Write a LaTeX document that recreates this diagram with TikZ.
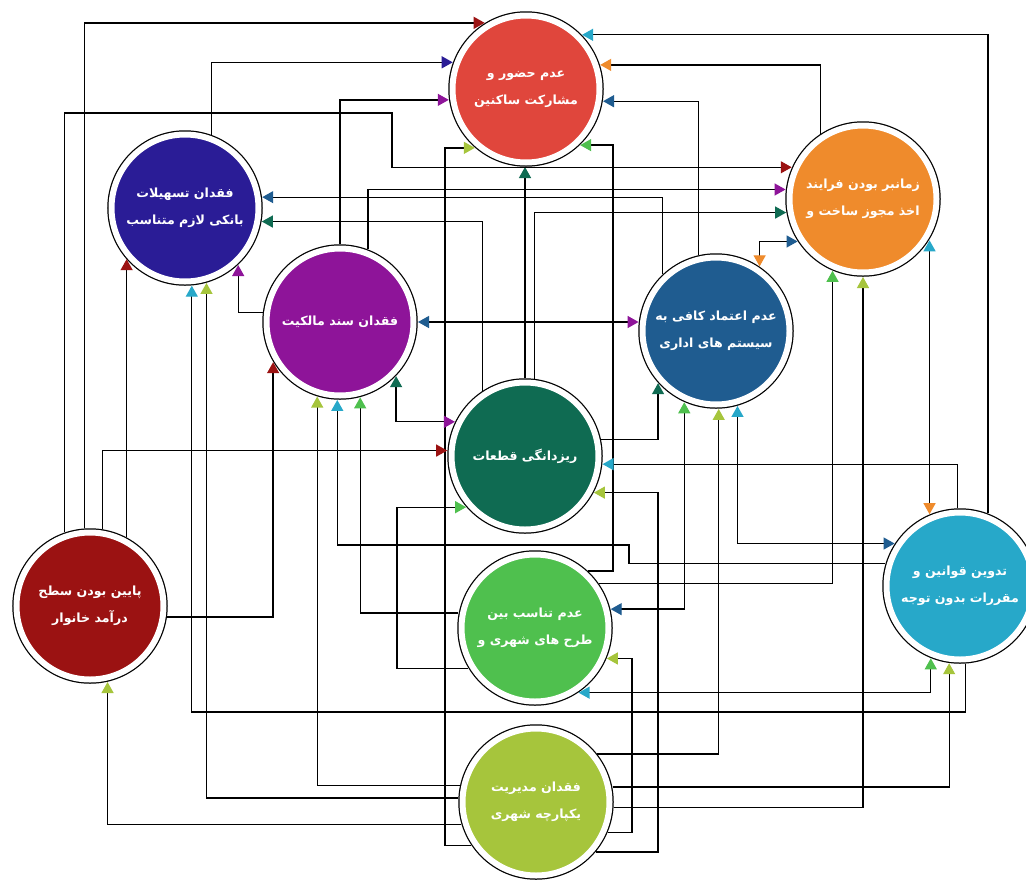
\documentclass[tikz,border=0pt]{standalone}
\usepackage{fontspec}
\usetikzlibrary{arrows.meta,calc}
\newfontfamily\fa[Script=Arabic,BoldFont={DejaVu Sans Bold}]{DejaVu Sans}
\TeXXeTstate=1
\definecolor{rc}{HTML}{E0463C}
\definecolor{oc}{HTML}{EF8B2C}
\definecolor{nc}{HTML}{2A1C96}
\definecolor{pc}{HTML}{8E1499}
\definecolor{bc}{HTML}{1F5C90}
\definecolor{gc}{HTML}{0F6B52}
\definecolor{tc}{HTML}{27A8C9}
\definecolor{dc}{HTML}{9B1212}
\definecolor{lc}{HTML}{4FC04E}
\definecolor{yc}{HTML}{A6C53C}
\tikzset{
  ball/.style={circle, minimum size=147pt, inner sep=0pt, outer sep=4.5pt,
    fill=#1, draw=white, line width=6pt,
    preaction={draw=black, line width=8.5pt},
    text=white, font=\fa\bfseries\fontsize{12.6}{27}\selectfont, align=center},
  ar/.style={line width=1.3pt, draw=black, -{Triangle[length=11pt,width=12pt,color=#1]}},
  bi/.style 2 args={line width=1.3pt, draw=black, {Triangle[length=11pt,width=12pt,color=#1]}-{Triangle[length=11pt,width=12pt,color=#2]}},
}
\begin{document}
\begin{tikzpicture}[x=1pt,y=-1pt]
\useasboundingbox (0,0) rectangle (1026,884);
\clip (0,0) rectangle (1026,884);
\fill[white] (0,0) rectangle (1026,884);
% nodes
\node[ball=rc] (R1) at (526,89) {\beginR عدم حضور و\endR\\\beginR مشارکت ساکنین\endR};
\node[ball=oc] (Or) at (863,199) {\beginR زمانبر بودن فرایند\endR\\\beginR اخذ مجوز ساخت و\endR};
\node[ball=nc] (Nv) at (185,208) {\beginR فقدان تسهیلات\endR\\\beginR بانکی لازم متناسب\endR};
\node[ball=pc] (Pu) at (340,322) {\beginR فقدان سند مالکیت\endR};
\node[ball=bc] (Bl) at (716,331) {\beginR عدم اعتماد کافی به\endR\\\beginR سیستم های اداری\endR};
\node[ball=gc] (DG) at (525,456) {\beginR ریزدانگی قطعات\endR};
\node[ball=tc] (Te) at (960,586) {\beginR تدوین قوانین و\endR\\\beginR مقررات بدون توجه\endR};
\node[ball=dc] (DR) at (90,606) {\beginR پایین بودن سطح\endR\\\beginR درآمد خانوار\endR};
\node[ball=lc] (LG) at (535,628) {\beginR عدم تناسب بین\endR\\\beginR طرح های شهری و\endR};
\node[ball=yc] (YG) at (536,802) {\beginR فقدان مدیریت\endR\\\beginR یکپارچه شهری\endR};
% lanes
\coordinate (x445) at (445,0);
\coordinate (x613) at (613,0);
\coordinate (h113) at (0,113);
\coordinate (x392) at (392,0);
\coordinate (h712) at (0,712);
\coordinate (k545) at (629,545);
\coordinate (x397) at (397,0);
\coordinate (x658) at (658,0);
\coordinate (x632) at (632,0);
% into R1
\draw[ar=dc] (DR.94) |- (R1.122);
\draw[ar=nc] (Nv.70) |- (R1.160);
\draw[ar=pc] (Pu.90) |- (R1.188);
\draw[ar=yc] (YG.214) -| (x445 |- R1.229) -- (R1.229);
\draw[ar=tc] (Te.69) |- (R1.44);
\draw[ar=oc] (Or.123) |- (R1.18);
\draw[ar=bc] (Bl.103) |- (R1.351);
\draw[ar=lc] (LG.47) -| (x613 |- R1.314) -- (R1.314);
\draw[ar=gc] (DG.90) -- (DG.90 |- R1.270);
% into Or
\draw[ar=dc] (DR.109) -- (DR.109 |- h113) -| (x392 |- Or.156) -- (Or.156);
\draw[ar=pc] (Pu.69) |- (Or.173);
\draw[ar=gc] (DG.83) |- (Or.190);
\draw[bi={oc}{bc}] (Bl.56) |- (Or.213);
\draw[ar=lc] (LG.35) -| (Or.247);
\draw[ar=yc] (YG.356) -| (Or.270);
\draw[bi={oc}{tc}] (Te.113) -- (Te.113 |- Or.328);
% into Nv
\draw[ar=bc] (Bl.133) |- (Nv.8);
\draw[ar=gc] (DG.123) |- (Nv.350);
\draw[ar=dc] (DR.62) -- (DR.62 |- Nv.221);
\draw[ar=tc] (Te.274) -- (Te.274 |- h712) -| (Nv.275);
\draw[ar=yc] (YG.177) -| (Nv.286);
\draw[ar=pc] (Pu.173) -| (Nv.313);
% into Pu
\draw[bi={bc}{pc}] (Pu.0) -- (Pu.0 -| Bl.173);
\draw[ar=dc] (DR.352) -| (Pu.211);
\draw[bi={gc}{pc}] (Pu.316) |- (DG.154);
\draw[ar=yc] (YG.168) -| (Pu.253);
\draw[ar=tc] (Te.163) -| (k545) -| (Pu.268);
\draw[ar=lc] (LG.169) -| (Pu.285);
% into Bl
\draw[ar=gc] (DG.12) -| (Bl.222);
\draw[bi={lc}{bc}] (Bl.246) |- (LG.14);
\draw[ar=yc] (YG.38) -| (Bl.272);
\draw[bi={tc}{bc}] (Bl.286) |- (Te.147);
% into DG
\draw[ar=dc] (DR.81) |- (DG.176);
\draw[ar=lc] (LG.211) -| (x397 |- DG.221) -- (DG.221);
\draw[ar=tc] (Te.92) |- (DG.354);
\draw[ar=yc] (YG.320) -| (x658 |- DG.332) -- (DG.332);
% into Te
\draw[bi={tc}{lc}] (LG.304) -| (Te.248);
\draw[ar=yc] (YG.11) -| (Te.262);
% into LG
\draw[ar=yc] (YG.337) -| (x632 |- LG.337) -- (LG.337);
% into DR
\draw[ar=yc] (YG.197) -| (DR.283);
\end{tikzpicture}
\end{document}
